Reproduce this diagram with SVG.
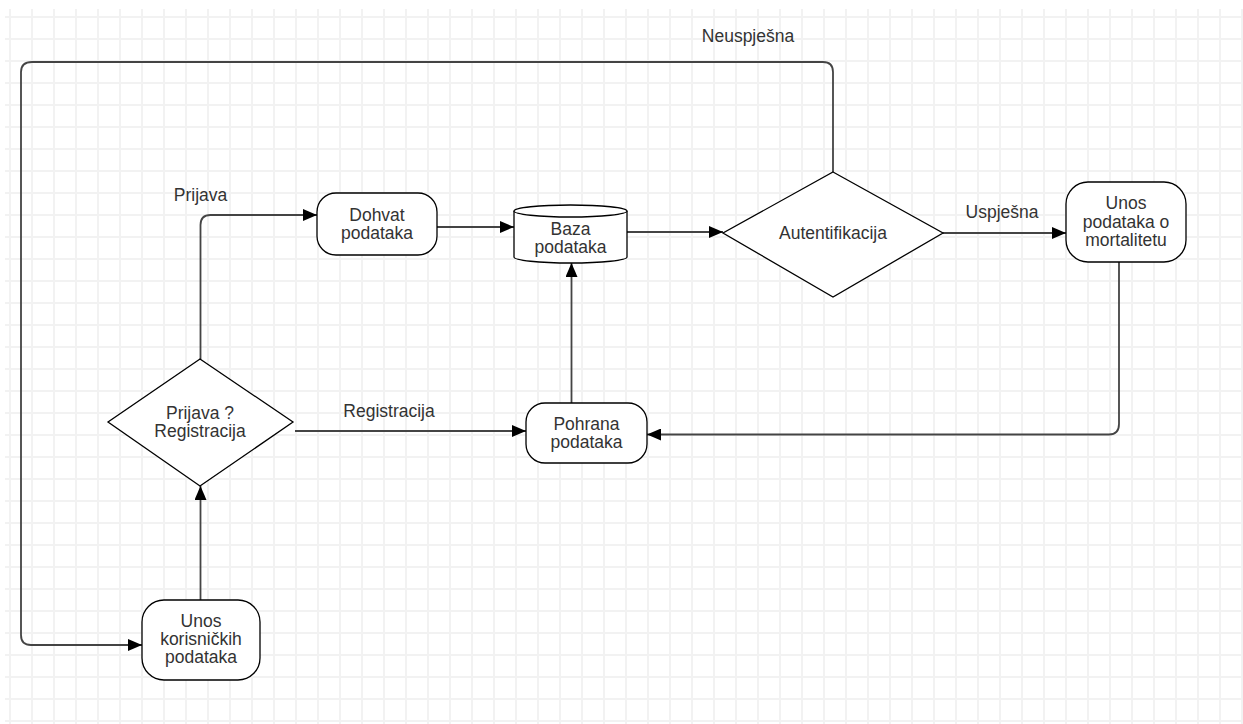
<svg xmlns="http://www.w3.org/2000/svg" width="1243" height="724" viewBox="0 0 1243 724">
  <defs>
    <pattern id="grid" x="9" y="16" width="22" height="22" patternUnits="userSpaceOnUse">
      <rect x="0" y="0" width="2" height="22" fill="#f2f2f2"/>
      <rect x="0" y="0" width="22" height="2" fill="#f2f2f2"/>
    </pattern>
    <marker id="arrow" viewBox="0 0 14 12" refX="14" refY="6" markerWidth="14" markerHeight="12" markerUnits="userSpaceOnUse" orient="auto">
      <path d="M0,0 L14,6 L0,12 Z" fill="#000"/>
    </marker>
    <style>
      .node { fill: #ffffff; stroke: #000000; stroke-width: 1.3; }
      .conn { fill: none; stroke: #444444; stroke-width: 1.8; }
      text { font-family: "Liberation Sans", Arial, sans-serif; font-size: 17.5px; fill: #333333; text-anchor: middle; }
    </style>
  </defs>

  <rect x="0" y="0" width="1243" height="724" fill="#ffffff"/>
  <rect x="5" y="9" width="1238" height="715" fill="url(#grid)"/>

  <g id="connectors">
    <path class="conn" d="M200.5,600 V486" marker-end="url(#arrow)"/>
    <path class="conn" d="M200.5,359 V225 Q200.5,215 210.5,215 H317" marker-end="url(#arrow)"/>
    <path class="conn" d="M437,227 H514" marker-end="url(#arrow)"/>
    <path class="conn" d="M571.5,403 V263" marker-end="url(#arrow)"/>
    <path class="conn" d="M627,232 H723" marker-end="url(#arrow)"/>
    <path class="conn" d="M943,233 H1066" marker-end="url(#arrow)"/>
    <path class="conn" d="M1119,262 V424 Q1119,434.5 1109,434.5 H647" marker-end="url(#arrow)"/>
    <path class="conn" d="M295,431 H526" marker-end="url(#arrow)"/>
    <path class="conn" d="M833,172 V72 Q833,62 823,62 H32 Q21,62 21,72 V635 Q21,645 31,645 H142" marker-end="url(#arrow)"/>
    <text x="200.5" y="201">Prijava</text>
    <text x="389" y="417">Registracija</text>
    <text x="1002" y="218">Uspješna</text>
    <text x="748" y="42">Neuspješna</text>
  </g>

  <g id="unos-korisnickih">
    <rect class="node" x="142" y="600" width="118" height="80" rx="22" ry="22"/>
    <text x="201" y="627">Unos</text>
    <text x="201" y="645">korisničkih</text>
    <text x="201" y="663">podataka</text>
  </g>

  <g id="prijava-registracija">
    <polygon class="node" points="200,359 293,422 200,486 108,422"/>
    <text x="200" y="419">Prijava ?</text>
    <text x="200" y="437">Registracija</text>
  </g>

  <g id="dohvat">
    <rect class="node" x="317" y="193" width="120" height="62" rx="19" ry="19"/>
    <text x="377" y="221">Dohvat</text>
    <text x="377" y="239">podataka</text>
  </g>

  <g id="baza">
    <path class="node" d="M514,211 A56.5,6 0 0 1 627,211 V257 A56.5,6 0 0 1 514,257 Z"/>
    <path class="node" d="M514,211 A56.5,6 0 0 0 627,211" fill="none"/>
    <text x="570.5" y="235">Baza</text>
    <text x="570.5" y="253">podataka</text>
  </g>

  <g id="autentifikacija">
    <polygon class="node" points="833,172 943,233 833,297 723,233"/>
    <text x="833" y="239">Autentifikacija</text>
  </g>

  <g id="unos-mortalitet">
    <rect class="node" x="1066" y="182" width="120" height="80" rx="22" ry="22"/>
    <text x="1126" y="209">Unos</text>
    <text x="1126" y="227.5">podataka o</text>
    <text x="1126" y="246">mortalitetu</text>
  </g>

  <g id="pohrana">
    <rect class="node" x="526" y="403" width="121" height="60" rx="19" ry="19"/>
    <text x="586.5" y="430">Pohrana</text>
    <text x="586.5" y="448">podataka</text>
  </g>
</svg>
